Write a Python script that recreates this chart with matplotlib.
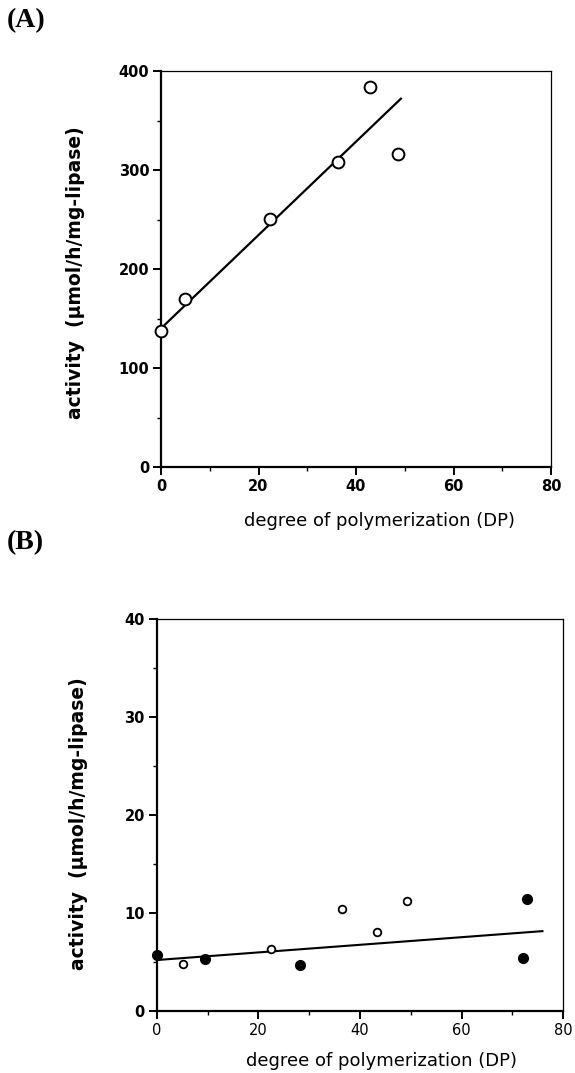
import matplotlib
matplotlib.use("Agg")
import matplotlib.pyplot as plt
from matplotlib.ticker import MultipleLocator

# ---- data ----
dp_A = [0, 5, 22.4, 36.3, 42.8, 48.7]
act_A = [137, 170, 251, 308, 384, 316]
fit_A_x = [0, 49.2]
fit_A_y = [140, 372]

dp_B_open = [5.2, 22.5, 36.5, 43.3, 49.2]
act_B_open = [4.8, 6.3, 10.4, 8.1, 11.2]
dp_B_filled = [0.1, 9.5, 28.2, 72.0, 72.8]
act_B_filled = [5.7, 5.3, 4.7, 5.4, 11.4]
fit_B_x = [0, 75.9]
fit_B_y = [5.2, 8.15]

x_ticks = [0, 20, 40, 60, 80]
yA_ticks = [0, 100, 200, 300, 400]
yB_ticks = [0, 10, 20, 30, 40]

ylabel = "activity  (\u00b5mol/h/mg-lipase)"
xlabel = "degree of polymerization (DP)"

FONT = "DejaVu Sans"

fig = plt.figure(figsize=(5.75, 10.73), dpi=100)
W, H = 575, 1073


def ax_at(x0, y0, x1, y1):
    return fig.add_axes([x0 / W, 1 - y1 / H, (x1 - x0) / W, (y1 - y0) / H])


def style(ax, xbold=True):
    for s in ["left", "bottom"]:
        ax.spines[s].set_linewidth(1.6)
    for s in ["top", "right"]:
        ax.spines[s].set_linewidth(0.9)
    ax.tick_params(which="major", direction="out", length=6, width=1.4, pad=2.5)
    ax.tick_params(which="minor", direction="out", length=3, width=1.0)
    ax.tick_params(top=False, right=False)
    for lab in ax.get_yticklabels():
        lab.set_fontfamily(FONT)
        lab.set_fontweight("bold")
        lab.set_fontsize(10.5)
    for lab in ax.get_xticklabels():
        lab.set_fontfamily(FONT)
        lab.set_fontweight("bold" if xbold else "normal")
        lab.set_fontsize(10.5)


def labels(ax, ylx, yly, xlx, xly):
    ax.set_ylabel(ylabel, fontfamily=FONT, fontweight="bold", fontsize=13.5)
    ax.yaxis.label.set_va("center")
    ax.yaxis.set_label_coords(ylx, yly)
    ax.set_xlabel(xlabel, fontfamily=FONT, fontsize=13)
    ax.xaxis.set_label_coords(xlx, xly)


# ---- panel A ----
axA = ax_at(161, 71, 551, 467)
axA.plot(fit_A_x, fit_A_y, color="black", lw=1.6, zorder=2)
axA.plot(dp_A, act_A, linestyle="none", marker="o", ms=8.5, mfc="white",
         mec="black", mew=1.4, zorder=3, clip_on=False)
axA.set_xlim(0, 80)
axA.set_ylim(0, 400)
axA.set_xticks(x_ticks)
axA.set_yticks(yA_ticks)
axA.xaxis.set_minor_locator(MultipleLocator(10))
axA.yaxis.set_minor_locator(MultipleLocator(50))
style(axA)
labels(axA, (75 - 161) / 390, 1 - (273 - 71) / 396, (380 - 161) / 390, -(512 - 467) / 396)

# ---- panel B ----
axB = ax_at(156.7, 619, 563.3, 1011)
axB.plot(fit_B_x, fit_B_y, color="black", lw=1.5, zorder=2)
axB.plot(dp_B_open, act_B_open, linestyle="none", marker="o", ms=5.5, mfc="white",
         mec="black", mew=1.3, zorder=3)
axB.plot(dp_B_filled, act_B_filled, linestyle="none", marker="o", ms=7, mfc="black",
         mec="black", zorder=3, clip_on=False)
axB.set_xlim(0, 80)
axB.set_ylim(0, 40)
axB.set_xticks(x_ticks)
axB.set_yticks(yB_ticks)
axB.xaxis.set_minor_locator(MultipleLocator(10))
axB.yaxis.set_minor_locator(MultipleLocator(5))
style(axB, xbold=False)
labels(axB, (78 - 156.7) / 406.6, 1 - (824 - 619) / 392, (382 - 156.7) / 406.6, -(1052 - 1011) / 392)

# ---- panel letters ----
fig.text(7 / W, 1 - 8 / H, "(A)", fontfamily="Liberation Serif", fontweight="bold",
         fontsize=20, va="top", ha="left")
fig.text(7 / W, 1 - 530 / H, "(B)", fontfamily="Liberation Serif", fontweight="bold",
         fontsize=20, va="top", ha="left")

fig.savefig("out.png", dpi=100)
